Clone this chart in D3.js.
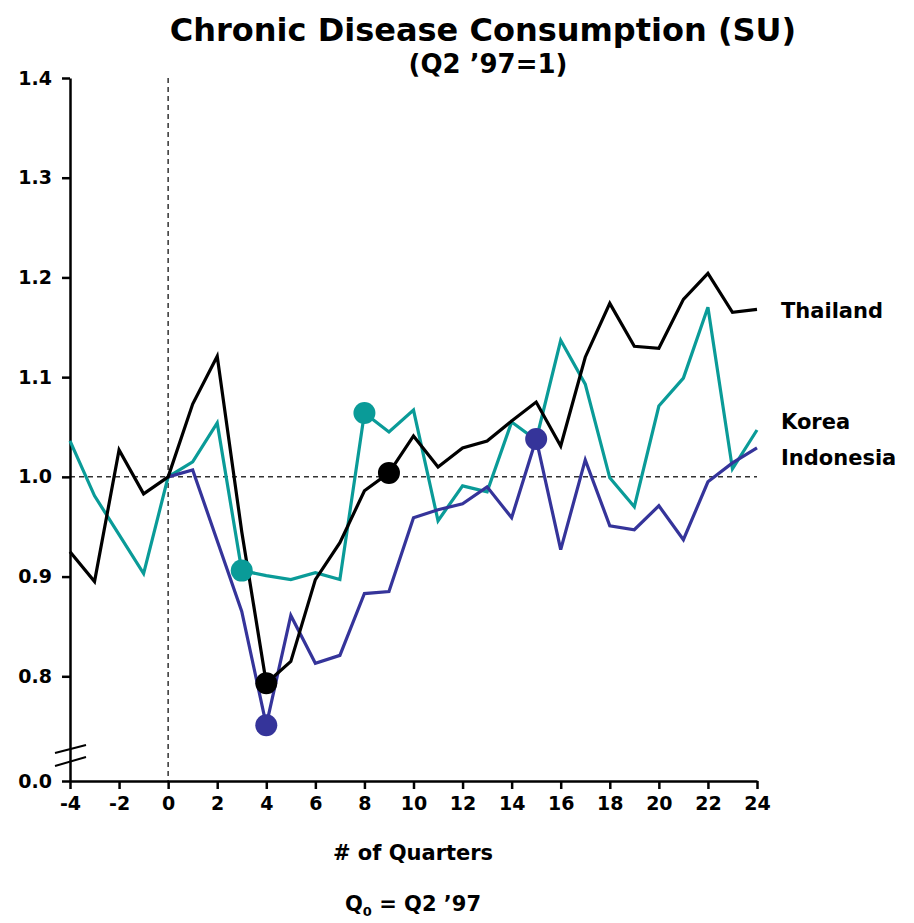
<!DOCTYPE html>
<html>
<head>
  <meta charset='utf-8'>
  <script src="https://d3js.org/d3.v7.min.js"></script>
  <style>
    body { margin: 0; background: #fff; }
    text { font-family: "DejaVu Sans", Verdana, sans-serif; font-weight: bold; fill: #000; }
    .axis path, .axis line { stroke: #000; stroke-width: 2.5; }
    .axis text { font-size: 19px; }
  </style>
</head>
<body>
  <script type='text/javascript'>
    // quarters relative to Q2 '97
    var quarters = d3.range(-4, 25);
    var thailand = [0.925, 0.895, 1.027, 0.983, 1.000, 1.073, 1.121, 0.945, 0.793, 0.815,
                    0.897, 0.934, 0.986, 1.004, 1.041, 1.010, 1.029, 1.036, 1.056, 1.075,
                    1.031, 1.120, 1.174, 1.131, 1.129, 1.178, 1.204, 1.165, 1.168];
    var korea = [1.036, 0.981, 0.942, 0.903, 1.000, 1.015, 1.054, 0.906, 0.901, 0.897,
                 0.904, 0.897, 1.064, 1.045, 1.067, 0.956, 0.991, 0.985, 1.055, 1.037,
                 1.137, 1.093, 0.999, 0.970, 1.071, 1.099, 1.170, 1.008, 1.047];
    // Indonesia starts at quarter 0
    var indonesia = [null, null, null, null, 1.000, 1.007, 0.936, 0.865, 0.751, 0.861,
                     0.813, 0.821, 0.883, 0.885, 0.959, 0.967, 0.973, 0.990, 0.959, 1.038,
                     0.927, 1.017, 0.951, 0.947, 0.971, 0.937, 0.995, 1.014, 1.029];
    // highlighted quarters (dots)
    var thailandDots = [4, 9];
    var koreaDots = [3, 8];
    var indonesiaDots = [4, 15];
    var xTicks = d3.range(-4, 25, 2);
    var yTicks = [0.695, 0.8, 0.9, 1.0, 1.1, 1.2, 1.3, 1.4];

    var series = [
      {name: 'Korea', values: korea, dots: koreaDots, color: '#0a9b98', labelY: 429},
      {name: 'Indonesia', values: indonesia, dots: indonesiaDots, color: '#35349a', labelY: 465},
      {name: 'Thailand', values: thailand, dots: thailandDots, color: '#000000', labelY: 318}
    ];

    var svg = d3.select('body').append('svg')
      .attr('width', 914).attr('height', 923);

    var x = d3.scaleLinear().domain([-4, 24]).range([70, 757]);
    var y = d3.scaleLinear().domain([0.695, 1.4]).range([781, 78]);

    // Titles
    svg.append('text').attr('x', 483).attr('y', 41).attr('text-anchor', 'middle')
      .style('font-size', '32px').text('Chronic Disease Consumption (SU)');
    svg.append('text').attr('x', 488).attr('y', 73).attr('text-anchor', 'middle')
      .style('font-size', '26px').text('(Q2 \u201997=1)');

    // reference lines
    svg.append('line')
      .attr('x1', x(0)).attr('x2', x(0)).attr('y1', y(1.4)).attr('y2', y(0.695))
      .attr('stroke', '#333').attr('stroke-width', 1.5).attr('stroke-dasharray', '5,4');
    svg.append('line')
      .attr('x1', x(-4)).attr('x2', x(24)).attr('y1', y(1)).attr('y2', y(1))
      .attr('stroke', '#333').attr('stroke-width', 1.5).attr('stroke-dasharray', '5,4');

    // Axes
    svg.append('g').attr('class', 'axis')
      .attr('transform', 'translate(' + x(-4) + ',0)')
      .call(d3.axisLeft(y).tickValues(yTicks).tickSize(8).tickSizeOuter(0).tickPadding(10)
        .tickFormat(function(d) { return d < 0.7 ? '0.0' : d.toFixed(1); }));
    svg.append('g').attr('class', 'axis')
      .attr('transform', 'translate(0,' + y(0.695) + ')')
      .call(d3.axisBottom(x).tickValues(xTicks).tickSize(8).tickSizeOuter(0).tickPadding(8)
        .tickFormat(function(d) { return String(d); }));

    // axis break marks
    svg.append('line').attr('x1', 55).attr('y1', 753).attr('x2', 86).attr('y2', 745)
      .attr('stroke', '#000').attr('stroke-width', 2);
    svg.append('line').attr('x1', 55).attr('y1', 766).attr('x2', 86).attr('y2', 757)
      .attr('stroke', '#000').attr('stroke-width', 2);

    var line = d3.line()
      .defined(function(d) { return d[1] != null; })
      .x(function(d) { return x(d[0]); })
      .y(function(d) { return y(d[1]); });

    series.forEach(function(s) {
      var pts = quarters.map(function(q, i) { return [q, s.values[i]]; });
      svg.append('path').datum(pts)
        .attr('fill', 'none').attr('stroke', s.color).attr('stroke-width', 3.2)
        .attr('stroke-linejoin', 'miter')
        .attr('d', line);
    });
    series.forEach(function(s) {
      svg.selectAll(null).data(s.dots).enter().append('circle')
        .attr('cx', function(q) { return x(q); })
        .attr('cy', function(q) { return y(s.values[quarters.indexOf(q)]); })
        .attr('r', 11).attr('fill', s.color);
      svg.append('text').attr('x', 781).attr('y', s.labelY)
        .style('font-size', '21px').text(s.name);
    });

    // bottom labels
    svg.append('text').attr('x', 413).attr('y', 860).attr('text-anchor', 'middle')
      .style('font-size', '21px').text('# of Quarters');
    var q0 = svg.append('text').attr('x', 413).attr('y', 911).attr('text-anchor', 'middle')
      .style('font-size', '21px');
    q0.append('tspan').text('Q');
    q0.append('tspan').attr('dy', 5).style('font-size', '13px').text('0');
    q0.append('tspan').attr('dy', -5).text(' = Q2 \u201997');
  </script>
</body>
</html>
